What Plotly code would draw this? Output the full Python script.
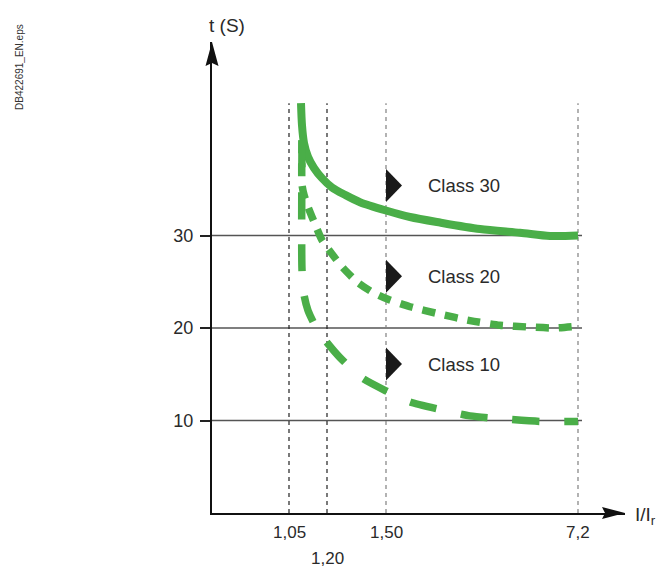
import plotly.graph_objects as go

# ---- schematic axis positions (not to scale) ----
x_tick_pos = [7.7, 11.5, 17.4, 36.6]
x_tick_text = ["1,05", "1,20", "1,50", "7,2"]
y_tick_vals = [10, 20, 30]

# ---- curves (x in schematic position units, y in seconds) ----
c30_x = [8.9, 9.0, 9.2, 9.6, 10.2, 11.0, 12.0, 13.3, 14.8, 17.4, 19.8, 22.8, 26.8, 30.8, 33.8, 36.6]
c30_y = [44.3, 41.9, 40.0, 38.5, 37.3, 36.2, 35.2, 34.4, 33.6, 32.7, 32.0, 31.4, 30.7, 30.3, 29.95, 30.0]

c20_x = [9.0, 9.0, 9.2, 9.6, 10.2, 11.0, 12.0, 13.1, 14.6, 16.0, 17.6, 19.8, 22.8, 25.8, 28.8, 31.8, 34.3, 36.6]
c20_y = [40.3, 35.5, 34.4, 33.1, 31.5, 29.5, 28.0, 26.5, 24.9, 23.9, 23.1, 22.3, 21.5, 20.8, 20.3, 20.1, 20.0, 20.2]

c10_x = [9.0, 9.0, 9.2, 9.6, 10.3, 11.3, 12.8, 15.0, 17.4, 19.8, 22.8, 25.8, 28.8, 32.8, 36.6]
c10_y = [40.3, 26.3, 23.6, 21.9, 20.3, 18.7, 16.8, 14.6, 13.2, 12.0, 11.2, 10.5, 10.2, 9.9, 9.9]

class_labels = ["Class 30", "Class 20", "Class 10"]
class_label_y = [35.4, 25.6, 16.1]
class_label_x = 21.4

vline_top = 44.3
hline_end = 37.0
x_max = 41.3
y_max = 50.92

GREEN = "#4aae48"
FONT = "Liberation Sans, Arial, sans-serif"
TXT = "#2a2a2a"

fig = go.Figure()

# horizontal reference lines
for yv in y_tick_vals:
    fig.add_shape(type="line", x0=0, x1=hline_end, y0=yv, y1=yv, xref="x", yref="y",
                  line=dict(color="#555555", width=1.5), layer="below")

# vertical dashed lines
vcolors = ["#222222", "#222222", "#808080", "#808080"]
for xv, c in zip(x_tick_pos, vcolors):
    fig.add_shape(type="line", x0=xv, x1=xv, y0=0, y1=vline_top, xref="x", yref="y",
                  line=dict(color=c, width=1.2, dash="4px,4px"), layer="below")

# curves
fig.add_trace(go.Scatter(x=c30_x, y=c30_y, mode="lines", line=dict(color=GREEN, width=8, shape="spline", smoothing=0.8),
                         hoverinfo="skip", showlegend=False))
fig.add_trace(go.Scatter(x=c20_x, y=c20_y, mode="lines", line=dict(color=GREEN, width=7.5, dash="13px,10px", shape="spline", smoothing=0.6),
                         hoverinfo="skip", showlegend=False))
fig.add_trace(go.Scatter(x=c10_x, y=c10_y, mode="lines", line=dict(color=GREEN, width=7.5, dash="27px,25px", shape="spline", smoothing=0.6),
                         hoverinfo="skip", showlegend=False))

# black class triangles + labels
for lab, yv in zip(class_labels, class_label_y):
    fig.add_shape(type="path", xref="x", yref="y", xsizemode="pixel", ysizemode="pixel",
                  xanchor=x_tick_pos[2], yanchor=yv,
                  path="M 0,16.5 L 16,0 L 0,-16.5 Z",
                  fillcolor="#1a1a1a", line=dict(width=0))
    fig.add_annotation(x=class_label_x, y=yv, text=lab, showarrow=False, xanchor="left", yanchor="middle",
                       font=dict(family=FONT, size=18.5, color=TXT))

# axis arrowheads (paper-referenced so they are not clipped)
fig.add_shape(type="path", xref="paper", yref="paper", xsizemode="pixel", ysizemode="pixel",
              xanchor=1, yanchor=0, path="M 0,0 L -23,6 L -20,0 L -23,-6 Z",
              fillcolor="#111111", line=dict(width=0))
fig.add_shape(type="path", xref="paper", yref="paper", xsizemode="pixel", ysizemode="pixel",
              xanchor=0, yanchor=1, path="M 0,0 L 6.5,-24 L 0,-21 L -6.5,-24 Z",
              fillcolor="#111111", line=dict(width=0))

# x tick labels
for xv, t in zip(x_tick_pos, x_tick_text):
    shift = -45 if t == "1,20" else -19
    fig.add_annotation(x=xv, y=0, xref="x", yref="paper", text=t, showarrow=False, yshift=shift,
                       xanchor="center", yanchor="middle", font=dict(family=FONT, size=17, color=TXT))

# axis titles
fig.add_annotation(x=0.036, y=1.036, xref="paper", yref="paper", text="t (S)", showarrow=False,
                   xanchor="center", yanchor="middle", font=dict(family=FONT, size=19, color=TXT))
fig.add_annotation(x=1.019, y=-0.006, xref="paper", yref="paper", text="I/I<sub>r</sub>", showarrow=False,
                   xanchor="left", yanchor="middle", font=dict(family=FONT, size=19, color=TXT))

# side file tag
fig.add_annotation(x=-0.465, y=0.947, xref="paper", yref="paper", text="DB422691_EN.eps", showarrow=False,
                   textangle=-90, xanchor="center", yanchor="middle",
                   font=dict(family=FONT, size=10, color="#333333"))

fig.update_layout(
    width=657, height=559,
    margin=dict(l=204, r=40, t=34, b=54),
    paper_bgcolor="white", plot_bgcolor="white",
    xaxis=dict(range=[0, x_max], showgrid=False, zeroline=False, showline=True, linecolor="#111111", linewidth=2,
               showticklabels=False, ticks="", fixedrange=True),
    yaxis=dict(range=[0, y_max], showgrid=False, zeroline=False, showline=True, linecolor="#111111", linewidth=2,
               tickvals=y_tick_vals, ticks="outside", ticklen=10, tickwidth=2, tickcolor="#222222",
               ticklabelstandoff=3, tickfont=dict(family=FONT, size=18, color=TXT), fixedrange=True),
)

fig.write_html("out.html")
